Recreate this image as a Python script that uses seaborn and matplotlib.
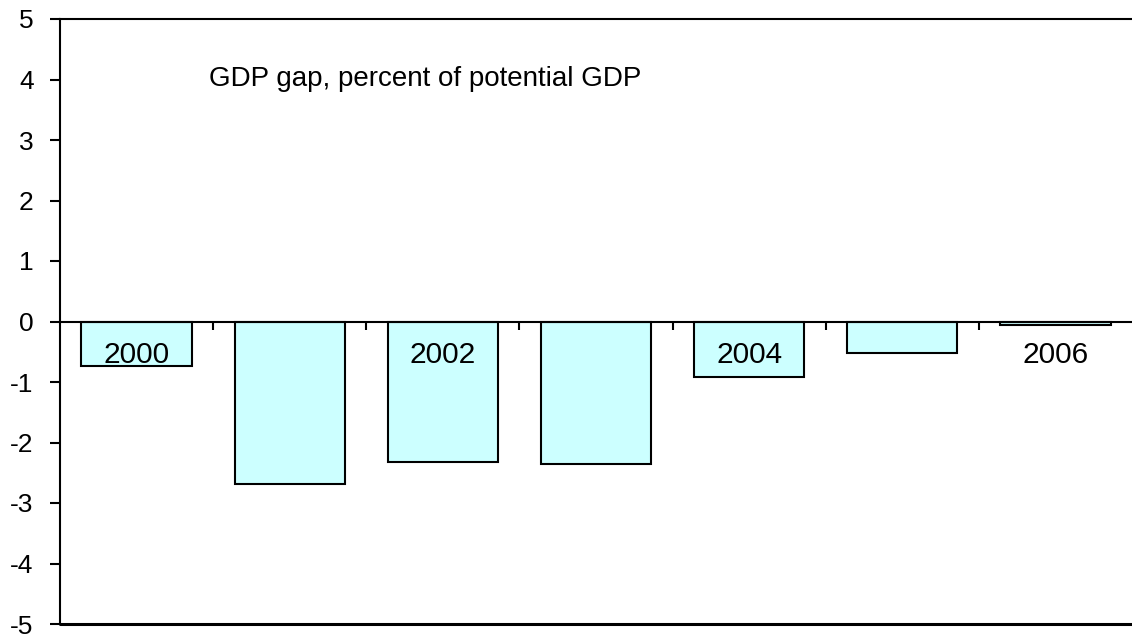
import matplotlib
matplotlib.use("Agg")
import matplotlib.pyplot as plt
import seaborn as sns
import pandas as pd
import numpy as np
from matplotlib.ticker import FixedLocator

years = ["2000", "2001", "2002", "2003", "2004", "2005", "2006"]
gdp_gap = [-0.74, -2.69, -2.32, -2.36, -0.91, -0.52, -0.05]
shown_labels = ["2000", "", "2002", "", "2004", "", "2006"]
y_ticks = [-5, -4, -3, -2, -1, 0, 1, 2, 3, 4, 5]

sns.set_theme(style="white")
plt.rcParams["font.family"] = ["Liberation Sans", "DejaVu Sans"]

df = pd.DataFrame({"year": years, "gap": gdp_gap})

fig = plt.figure(figsize=(11.32, 6.38), dpi=100)
ax = fig.add_axes([60 / 1132, 14 / 638, 1072 / 1132, 605 / 638])

sns.barplot(data=df, x="year", y="gap", order=years, color="#CCFFFF",
            saturation=1, edgecolor="black", linewidth=1.5, width=0.72, ax=ax)

ax.set_xlim(-0.5, len(years) - 0.5)
ax.set_ylim(-5, 5)
ax.set_xlabel("")
ax.set_ylabel("")
ax.set_axisbelow(False)

# Category axis sits on the zero line, year labels drawn over the bars
ax.spines["bottom"].set_position(("data", 0))
ax.spines["right"].set_visible(False)
for s in ["left", "top", "bottom"]:
    ax.spines[s].set_color("black")
    ax.spines[s].set_linewidth(1.5)
ax.axhline(-5, color="black", linewidth=2.2, clip_on=False, zorder=5)

ax.set_xticks(range(len(years)))
ax.set_xticklabels(shown_labels, fontsize=21.5, color="black")
ax.xaxis.set_minor_locator(FixedLocator(np.arange(0.5, len(years) - 1, 1.0)))
ax.tick_params(axis="x", which="major", length=0, pad=14, labelcolor="black")
ax.tick_params(axis="x", which="minor", length=6, width=1.5, direction="out",
               color="black", bottom=True)

ax.set_yticks(y_ticks)
ax.set_yticklabels([str(v) for v in y_ticks], fontsize=19)
ax.tick_params(axis="y", length=7, width=1.5, direction="out", color="black",
               left=True, pad=12, labelcolor="black")

ax.text(0.47, 4.0, "GDP gap, percent of potential GDP",
        fontsize=20, va="center", ha="left", color="black")

fig.savefig("out.png", dpi=100)
